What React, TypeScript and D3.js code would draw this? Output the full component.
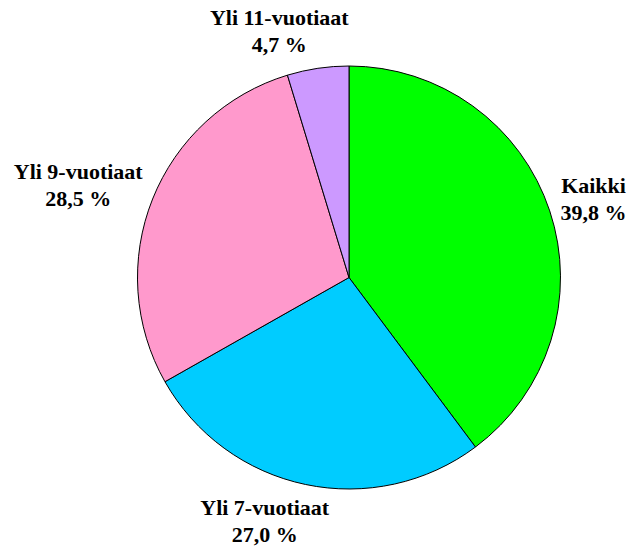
import { useEffect, useRef } from "react";
import * as d3 from "d3";

const categories = ["Kaikki", "Yli 7-vuotiaat", "Yli 9-vuotiaat", "Yli 11-vuotiaat"];
const shares = [39.8, 27.0, 28.5, 4.7];
const valueLabels = ["39,8 %", "27,0 %", "28,5 %", "4,7 %"];
const colors = ["#00ff00", "#00ccff", "#ff99cc", "#cc99ff"];

const width = 630;
const height = 556;
const cx = 349;
const cy = 277.5;
const radius = 211.5;
const labelGap = 12;
const fontSize = 22;
const lineHeight = 27;

type Slice = { name: string; value: number; label: string; color: string };

const App = () => {
  const svgRef = useRef<SVGSVGElement | null>(null);

  useEffect(() => {
    const svg = d3.select(svgRef.current);
    svg.selectAll("*").remove();

    const data: Slice[] = categories.map((name, i) => ({
      name,
      value: shares[i],
      label: valueLabels[i],
      color: colors[i],
    }));

    const pie = d3.pie<Slice>().sort(null).value((d) => d.value);
    const arcs = pie(data);
    const arc = d3.arc<d3.PieArcDatum<Slice>>().innerRadius(0).outerRadius(radius);

    const g = svg.append("g").attr("transform", `translate(${cx},${cy})`);

    // slices
    g.selectAll("path")
      .data(arcs)
      .enter()
      .append("path")
      .attr("d", arc)
      .attr("fill", (d) => d.data.color)
      .attr("stroke", "#000")
      .attr("stroke-width", 1);

    // labels outside the pie, box pushed away from the rim along mid angle
    g.selectAll("g.label")
      .data(arcs)
      .enter()
      .append("g")
      .attr("class", "label")
      .each(function (d) {
        const sel = d3.select(this);
        const t = sel
          .append("text")
          .attr("text-anchor", "middle")
          .attr("font-family", "'Liberation Serif', 'Times New Roman', serif")
          .attr("font-weight", "bold")
          .attr("font-size", fontSize)
          .attr("fill", "#000");
        t.append("tspan").attr("x", 0).attr("y", 0).text(d.data.name);
        t.append("tspan").attr("x", 0).attr("y", lineHeight).text(d.data.label);

        const w = (t.node() as SVGTextElement).getBBox().width;
        const ascent = -0.89 * fontSize;
        const h = lineHeight + 0.216 * fontSize - ascent;
        const a = (d.startAngle + d.endAngle) / 2;
        const s = Math.sin(a);
        const c = Math.cos(a);
        const px = (radius + labelGap) * s;
        const py = -(radius + labelGap) * c;
        const fx = 0.5 - 0.5 * Math.cbrt(s);
        const fy = 0.5 + 0.5 * c;
        const left = px - fx * w;
        const top = py - fy * h;
        sel.attr("transform", `translate(${left + w / 2},${top - ascent})`);
      });
  }, []);

  return (
    <svg
      ref={svgRef}
      width={width}
      height={height}
      style={{ position: "absolute", left: 0, top: 0, background: "#fff" }}
    />
  );
};

export default App;
